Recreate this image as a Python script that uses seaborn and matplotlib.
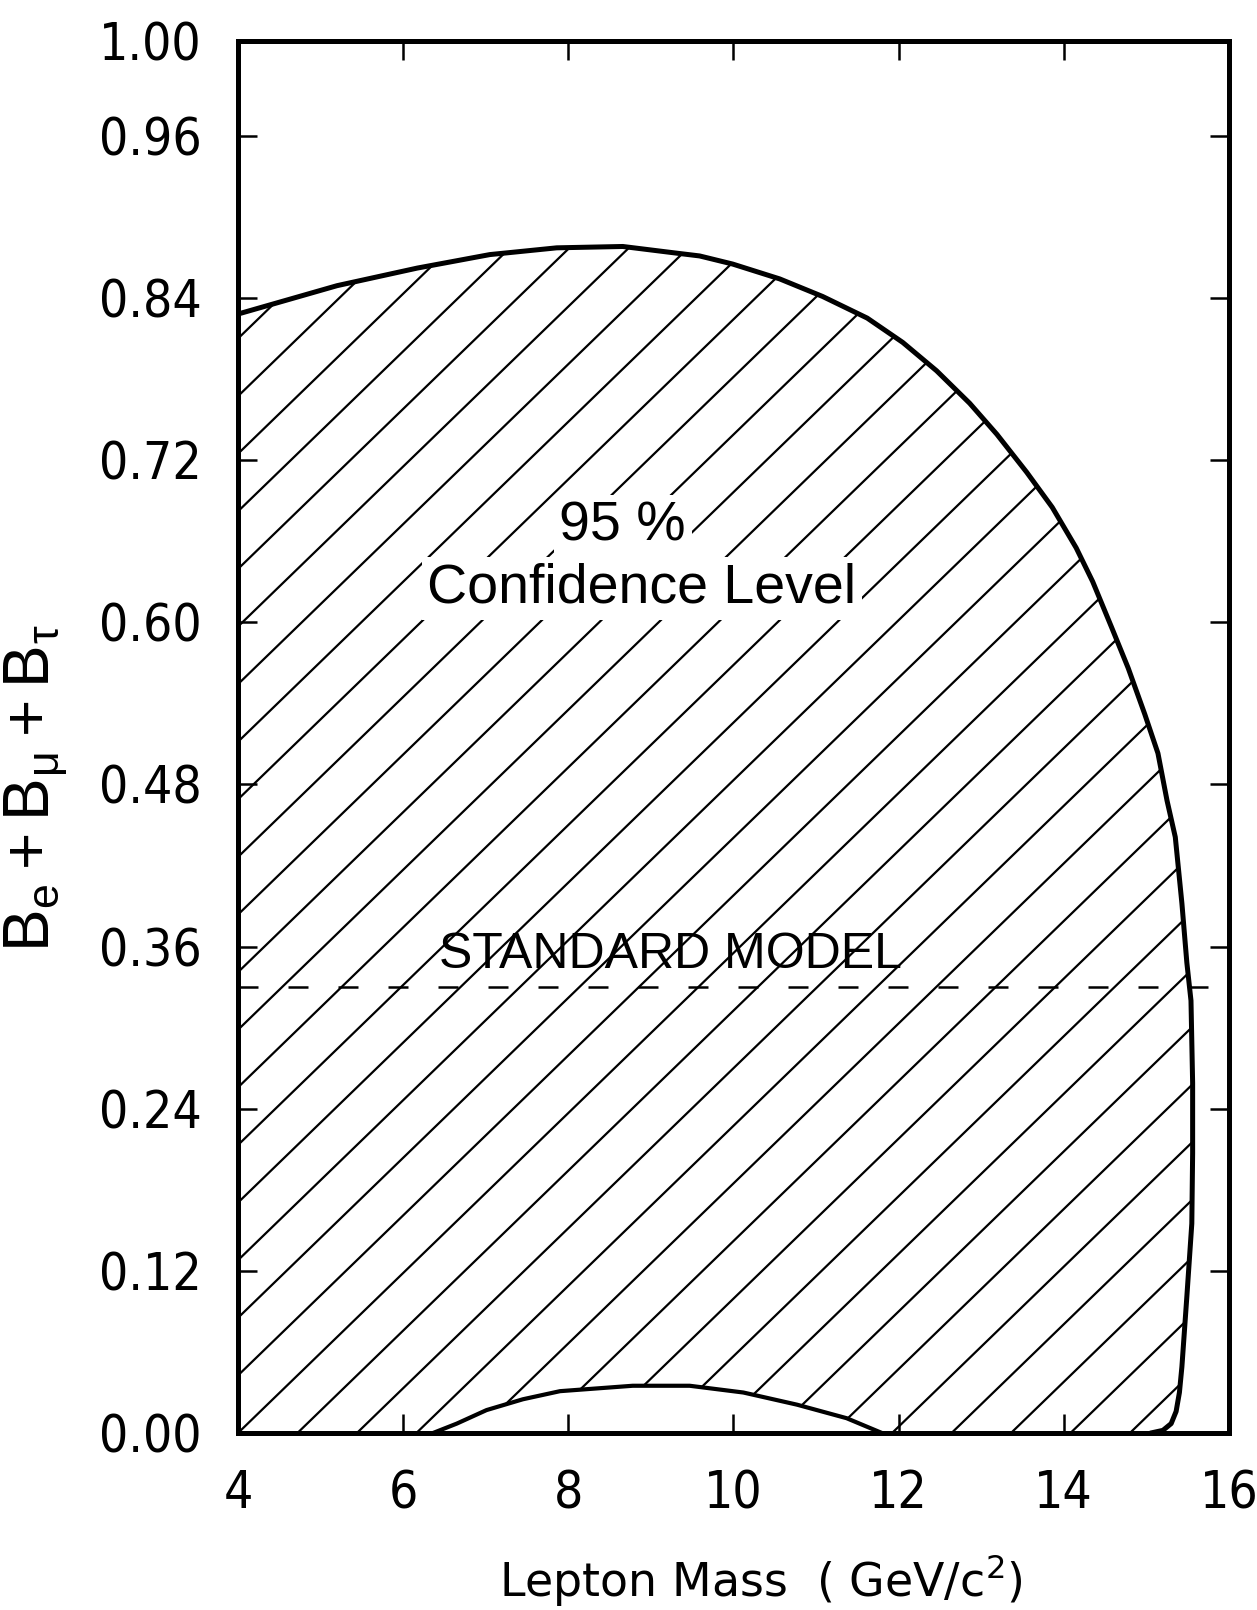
import numpy as np
import matplotlib
matplotlib.use("Agg")
import matplotlib.pyplot as plt
import seaborn as sns
from matplotlib import font_manager
from matplotlib.patches import Polygon

# upper edge of the 95% CL region: across the top, then down the right side
upper_mass = [4.00, 5.20, 6.17, 7.05, 7.86, 8.66, 9.32, 9.59, 9.99, 10.56,
              11.08, 11.62, 12.05, 12.46, 12.86, 13.19, 13.55, 13.86, 14.15,
              14.35, 14.58, 14.78, 14.98, 15.14, 15.25, 15.35, 15.43, 15.49,
              15.54, 15.56, 15.56, 15.55, 15.49, 15.43, 15.40, 15.36, 15.30,
              15.20, 15.05]
upper_sum = [0.828, 0.849, 0.862, 0.872, 0.877, 0.878, 0.873, 0.871, 0.865,
             0.854, 0.841, 0.825, 0.807, 0.786, 0.762, 0.739, 0.711, 0.685,
             0.655, 0.630, 0.596, 0.566, 0.532, 0.503, 0.468, 0.441, 0.392,
             0.348, 0.320, 0.259, 0.207, 0.155, 0.101, 0.049, 0.030, 0.016,
             0.007, 0.002, 0.000]

# lower edge: small bump above zero between ~6.4 and ~11.8
lower_mass = [6.36, 6.65, 7.01, 7.45, 7.90, 8.78, 9.47, 10.12, 10.77, 11.37, 11.80]
lower_sum = [0.000, 0.007, 0.017, 0.025, 0.031, 0.035, 0.035, 0.030, 0.021, 0.011, 0.000]

standard_model = 0.33

x_ticks = [4, 6, 8, 10, 12, 14, 16]
y_ticks = [0.00, 0.12, 0.24, 0.36, 0.48, 0.60, 0.72, 0.84, 0.96]
y_tick_labels = ["0.00", "0.12", "0.24", "0.36", "0.48", "0.60", "0.72", "0.84", "0.96"]
y_top = 1.03
y_top_label = "1.00"

sns.set_style("ticks")
installed = {f.name for f in font_manager.fontManager.ttflist}
narrow = "Liberation Sans Narrow" if "Liberation Sans Narrow" in installed else "DejaVu Sans"
plt.rcParams["font.family"] = ["Liberation Sans", "DejaVu Sans"]
plt.rcParams["text.color"] = "black"
plt.rcParams["axes.labelcolor"] = "black"
plt.rcParams["mathtext.fontset"] = "custom"
plt.rcParams["mathtext.rm"] = narrow
plt.rcParams["mathtext.it"] = narrow

fig = plt.figure(figsize=(12.57, 16.10), dpi=100)
ax = fig.add_axes([0.1893, 0.1099, 0.7884, 0.8646])
ax.set_xlim(4, 16)
ax.set_ylim(0, y_top)

# closed outline of the allowed region, used to clip the hatching
px = upper_mass + lower_mass[::-1] + [4.0]
py = upper_sum + lower_sum[::-1] + [0.0]
region = Polygon(np.column_stack([px, py]), closed=True, facecolor="none", edgecolor="none")
ax.add_patch(region)

slope = 0.0592   # ~45 deg on screen
step = 0.72
for x0 in np.arange(4 - 22 * step, 16, step):
    xs = np.array([x0, x0 + y_top / slope])
    ln, = ax.plot(xs, slope * (xs - x0), color="black", lw=1.6, zorder=1)
    ln.set_clip_path(region)

sns.lineplot(x=upper_mass, y=upper_sum, sort=False, estimator=None,
             color="black", lw=3.6, ax=ax, zorder=3)
sns.lineplot(x=lower_mass, y=lower_sum, sort=False, estimator=None,
             color="black", lw=3.0, ax=ax, zorder=3)
ax.axhline(standard_model, color="black", lw=1.8, ls=(0, (8, 12)), zorder=2)

box = dict(facecolor="white", edgecolor="none", pad=4)
ax.text(8.66, 0.671, "95 %", fontsize=40, ha="center", va="center", bbox=box, zorder=4)
ax.text(8.89, 0.625, "Confidence Level", fontsize=40, ha="center", va="center",
        bbox=box, zorder=4)
ax.text(9.24, 0.354, "STANDARD MODEL", fontsize=36, ha="center", va="center", zorder=4)

ax.set_xticks(x_ticks)
ax.set_xticklabels([str(v) for v in x_ticks])
ax.set_yticks(y_ticks + [y_top])
ax.set_yticklabels(y_tick_labels + [y_top_label])
ax.tick_params(direction="in", length=14, width=1.8, top=True, right=True,
               labelsize=37, pad=26, colors="black")
for lab in ax.get_xticklabels() + ax.get_yticklabels():
    lab.set_fontfamily(narrow)
    lab.set_fontstretch("condensed")

for sp in ax.spines.values():
    sp.set_linewidth(3.6)
    sp.set_color("black")

ax.set_xlabel(r"Lepton Mass  ( GeV/c$^2$)", fontsize=33, family=narrow)
ax.xaxis.label.set_va("center")
ax.xaxis.set_label_coords(0.528, -0.1056)
ax.set_ylabel(r"$\mathregular{B_e + B_\mu + B_\tau}$", fontsize=46)
ax.yaxis.label.set_va("center")
ax.yaxis.set_label_coords(-0.204, 0.463)

fig.savefig("out.png", dpi=100, facecolor="white")
